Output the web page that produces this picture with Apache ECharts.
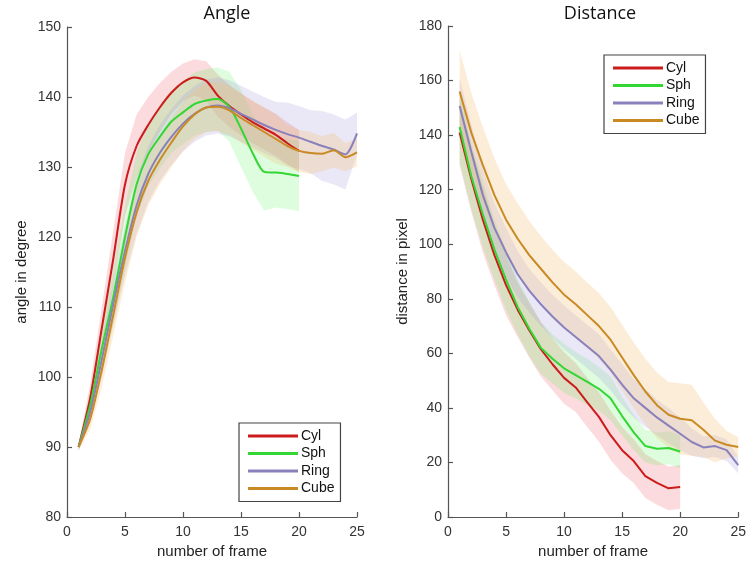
<!DOCTYPE html>
<html>
<head>
<meta charset="utf-8">
<script src="https://cdn.jsdelivr.net/npm/echarts@6/dist/echarts.min.js"></script>
<style>
  html, body { margin: 0; padding: 0; background: #fff; }
  #chart { width: 749px; height: 571px; }
</style>
</head>
<body>
<div id="chart"></div>
<script>
// frames
var frames20 = [1,2,3,4,5,6,7,8,9,10,11,12,13,14,15,16,17,18,19,20];
var frames25 = [1,2,3,4,5,6,7,8,9,10,11,12,13,14,15,16,17,18,19,20,21,22,23,24,25];
var names = ['Cyl', 'Sph', 'Ring', 'Cube'];

// Angle panel: mean and spread (half width of band)
var angleCyl  = [90,97,107,117,127.5,133,136,138.5,140.6,142.1,142.8,142.3,140.2,138.7,137.5,136.4,135.5,134.6,133.4,132.3];
var angleSph  = [90,96,104,111.5,120,127.5,131.8,134.3,136.5,137.8,139,139.5,139.7,138.6,135.5,132,129.3,129.2,129,128.7];
var angleRing = [90,95,102.5,110.5,118,124.5,129,132,134.3,136.2,137.6,138.5,138.8,138.4,137.6,136.8,136,135.3,134.7,134.2,133.6,133,132.5,131.8,134.8];
var angleCube = [90,94,101,109,117,123.5,128,131,133.5,135.8,137.5,138.5,138.6,138.1,137,136,135,134,133,132.3,132,131.9,132.4,131.4,132.1];
var angleCylSd  = [0.5,2,3,4,4.5,4.5,4,3.5,3,2.7,2.6,2.8,3,3,3,3,3,3,3,3];
var angleSphSd  = [0.5,2,3,4,4.5,4.5,4.5,4.5,4.5,4.5,4.5,4.5,4.5,5,5.5,5.5,5.5,5,5,5];
var angleRingSd = [0.5,1.5,2.5,3,3.5,4,4,4,4,4,4,4,4,4,4,4,4,4,4.5,4.5,4.5,5,5,5,3];
var angleCubeSd = [0.5,1.5,2.5,3,3.5,3.5,3.5,3.5,3.5,3.5,3.5,3.5,3.5,3.5,3.5,3.5,3.5,3.5,3,3,3,2.5,2.5,2,2];

// Distance panel: mean and spread
var distCyl  = [141,124,109,96,85,76,68.5,61.5,56,51,47.5,42,36.7,30,24.5,20.5,15,12.5,10.5,11];
var distSph  = [143,125,111,98,87,77,69,62,58,54.5,52,49.5,47,43.5,37,31,26,25,25.3,24];
var distRing = [150.7,134,118,106,97,89,83,78,73.5,69.5,66,62.5,59,54,48.5,43.5,40,36.5,33.5,30.5,27.5,25.5,26,24.5,19];
var distCube = [156,141,129,118,109,102,96,91,86,81.5,78,74,70,65,58.5,52,46,41,37.5,36,35.5,32,28,26.5,25.7];
var distCylSd  = [12,12,12,11,11,10,10,10,9.5,9.5,9,9,9,9,8.5,8,8,8,8,8];
var distSphSd  = [13,12,12,11,11,10,10,9.5,9,9,8.5,8.5,8,8,7,6.5,6,6,6,6];
var distRingSd = [10,10,9.5,9,9,8.5,8,8,8,8,8,8,8,7.5,7.5,7,7,6.5,6.5,6,5,4,4,4,3];
var distCubeSd = [15,14.5,14,13.5,13,13,12.5,12,12,12,12,12,12,12,12,12,12,12,12,13,13,10,8,5,3.5];

var lineColors = ['#cc1b1b', '#33d633', '#8a80bb', '#c98a24'];
var bandColors = ['rgba(240,110,120,0.25)', 'rgba(90,240,90,0.2)', 'rgba(160,150,220,0.22)', 'rgba(245,190,110,0.27)'];

var chart = echarts.init(document.getElementById('chart'));

// band polygon drawn once, from the rows [x, lo, hi] through the axis scales
function bandRenderer(rows, color) {
    return function (params, api) {
        if (params.dataIndex !== 0) return;
        var pts = [], k;
        for (k = 0; k < rows.length; k++) pts.push(api.coord([rows[k][0], rows[k][2]]));
        for (k = rows.length - 1; k >= 0; k--) pts.push(api.coord([rows[k][0], rows[k][1]]));
        return {
            type: 'polygon',
            shape: { points: pts },
            style: { fill: color, stroke: null }
        };
    };
}

var series = [];
function addPanel(idx, xs, means, sds, smooth) {
    for (var i = 0; i < means.length; i++) {
        var rows = [];
        for (var k = 0; k < means[i].length; k++) {
            rows.push([xs[i][k], means[i][k] - sds[i][k], means[i][k] + sds[i][k]]);
        }
        series.push({
            type: 'custom', xAxisIndex: idx, yAxisIndex: idx, silent: true,
            data: rows, encode: { x: 0, y: [1, 2] },
            renderItem: bandRenderer(rows, bandColors[i]), z: 1
        });
    }
    for (var j = 0; j < means.length; j++) {
        var d = [];
        for (var m = 0; m < means[j].length; m++) d.push([xs[j][m], means[j][m]]);
        series.push({
            name: names[j], type: 'line', xAxisIndex: idx, yAxisIndex: idx,
            data: d, symbol: 'none', color: lineColors[j], smooth: smooth,
            lineStyle: { width: 2, color: lineColors[j] }, z: 3
        });
    }
}
addPanel(0, [frames20, frames20, frames25, frames25],
    [angleCyl, angleSph, angleRing, angleCube],
    [angleCylSd, angleSphSd, angleRingSd, angleCubeSd], 0.25);
addPanel(1, [frames20, frames20, frames25, frames25],
    [distCyl, distSph, distRing, distCube],
    [distCylSd, distSphSd, distRingSd, distCubeSd], false);

var axisLine = { show: true, lineStyle: { color: '#555', width: 1.2 } };
var axisTick = { show: true, inside: true, length: 5, lineStyle: { color: '#555', width: 1.2 } };
var labelStyle = { color: '#333', fontSize: 14, fontFamily: 'Liberation Sans' };
var nameStyle = { color: '#222', fontSize: 15, fontFamily: 'Liberation Sans' };

function xAxis(idx) {
    return {
        type: 'value', gridIndex: idx, min: 0, max: 25, interval: 5,
        name: 'number of frame', nameLocation: 'middle', nameGap: 27,
        nameTextStyle: nameStyle,
        axisLine: axisLine, axisTick: axisTick, splitLine: { show: false },
        axisLabel: Object.assign({ margin: 8 }, labelStyle)
    };
}

var legendBase = {
    orient: 'vertical', data: names, icon: 'rect',
    itemWidth: 50, itemHeight: 3, itemGap: 3.5,
    borderColor: '#444', borderWidth: 1.2, borderRadius: 0,
    padding: [6, 6, 6, 9], backgroundColor: '#fff',
    textStyle: { color: '#111', fontSize: 14, fontFamily: 'Liberation Sans', padding: [0, 0, 0, -2] }
};

var option = {
    animation: false,
    backgroundColor: '#fff',
    title: [
        { text: 'Angle', left: 222, top: 0, textAlign: 'center',
          textStyle: { fontSize: 18, fontWeight: 'normal', color: '#111', fontFamily: 'Open Sans' } },
        { text: 'Distance', left: 595, top: 0, textAlign: 'center',
          textStyle: { fontSize: 18, fontWeight: 'normal', color: '#111', fontFamily: 'Open Sans' } }
    ],
    legend: [
        Object.assign({ left: 239, top: 423 }, legendBase),
        Object.assign({ left: 604, top: 55 }, legendBase)
    ],
    grid: [
        { left: 67, right: 392, top: 27, bottom: 54 },
        { left: 448, right: 10, top: 26, bottom: 54 }
    ],
    xAxis: [xAxis(0), xAxis(1)],
    yAxis: [
        {
            type: 'value', gridIndex: 0, min: 80, max: 150, interval: 10,
            name: 'angle in degree', nameLocation: 'middle', nameGap: 38,
            nameTextStyle: nameStyle,
            axisLine: axisLine, axisTick: axisTick, splitLine: { show: false },
            axisLabel: Object.assign({ margin: 6 }, labelStyle)
        },
        {
            type: 'value', gridIndex: 1, min: 0, max: 180, interval: 20,
            name: 'distance in pixel', nameLocation: 'middle', nameGap: 38,
            nameTextStyle: nameStyle,
            axisLine: axisLine, axisTick: axisTick, splitLine: { show: false },
            axisLabel: Object.assign({ margin: 6 }, labelStyle)
        }
    ],
    series: series
};
chart.setOption(option);
</script>
</body>
</html>
